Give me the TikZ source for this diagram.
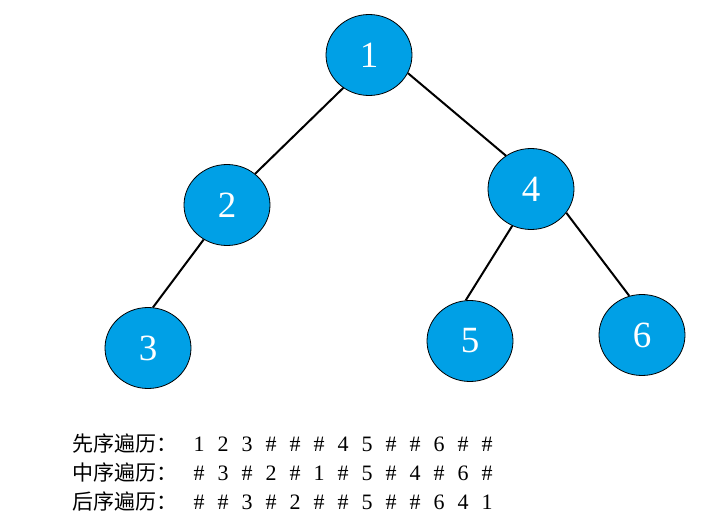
\documentclass[tikz,border=0pt]{standalone}
\usepackage{fontspec}
\usetikzlibrary{shapes.geometric}
\setmainfont{Liberation Serif}
\newfontfamily\cjk{Noto Sans CJK SC}
\definecolor{nodeblue}{RGB}{0,160,230}
\begin{document}
\begin{tikzpicture}[x=1pt,y=-1pt,
  tnode/.style={ellipse,draw=black,line width=0.8pt,fill=nodeblue,minimum width=86pt,minimum height=81pt,inner sep=0pt,text=white,font=\fontsize{37}{37}\selectfont},
  edge/.style={line width=2pt,black},
  lbl/.style={anchor=base west,inner sep=0pt,font=\cjk\fontsize{21}{21}\selectfont},
  tok/.style={anchor=base,inner sep=0pt,font=\fontsize{22}{22}\selectfont}]
\useasboundingbox (0,0) rectangle (720,516);
\node[tnode] (n1) at (369,55) {1};
\node[tnode] (n2) at (227,205) {2};
\node[tnode] (n3) at (148,348) {3};
\node[tnode] (n4) at (531,189) {4};
\node[tnode] (n5) at (470,341) {5};
\node[tnode] (n6) at (642,335) {6};
\draw[edge] (n1.232) -- (n2.48);
\draw[edge] (n1.-25) -- (n4.127);
\draw[edge] (n2.236) -- (n3.83);
\draw[edge] (n4.243) -- (n5.96);
\draw[edge] (n4.-34) -- (n6.108);
\node[lbl] (l1) at (72,451) {先序遍历：};
\node[lbl] (l2) at (72,480) {中序遍历：};
\node[lbl] (l3) at (72,509) {后序遍历：};
\foreach \t [count=\i from 0] in {1,2,3,\#,\#,\#,4,5,\#,\#,6,\#,\#}
  \node[tok] (a\i) at (199+24*\i,451) {\t};
\foreach \t [count=\i from 0] in {\#,3,\#,2,\#,1,\#,5,\#,4,\#,6,\#}
  \node[tok] (b\i) at (199+24*\i,480) {\t};
\foreach \t [count=\i from 0] in {\#,\#,3,\#,2,\#,\#,5,\#,\#,6,4,1}
  \node[tok] (c\i) at (199+24*\i,509) {\t};
\end{tikzpicture}
\end{document}
